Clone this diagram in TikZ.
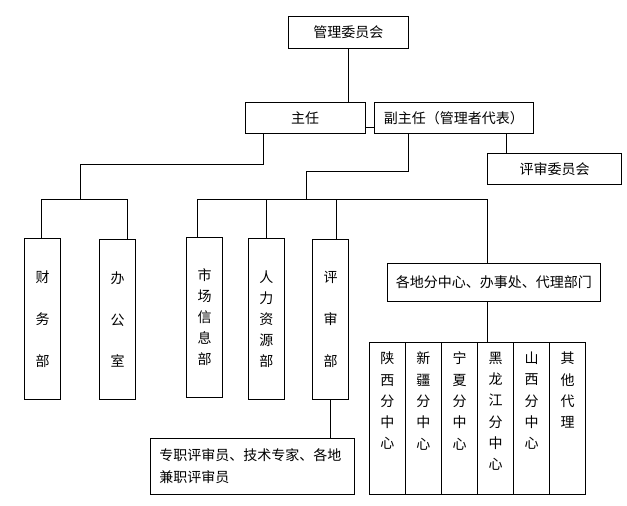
\documentclass[tikz,border=0pt]{standalone}
\usepackage{fontspec}
\setmainfont{Noto Sans CJK SC}
\begin{document}
\begin{tikzpicture}[x=1pt,y=-1pt,line width=1pt,
  box/.style={draw,inner sep=0pt,font=\fontsize{14}{21}\selectfont},
  vbox/.style={box,minimum width=36.4pt,minimum height=160.5pt,align=center},
  wide/.style={vbox,font=\fontsize{14}{41.7}\selectfont},
  colbox/.style={draw,inner sep=0pt,minimum width=36.07pt,minimum height=151.6pt},
  coltext/.style={inner sep=0pt,anchor=north,align=center,font=\fontsize{14}{21.3}\selectfont}]
\fill[white] (0,0) rectangle (627,506);
\useasboundingbox (0,0) rectangle (627,506);
% boxes
\node[box,minimum width=120pt,minimum height=32.3pt] (glwyh) at (348.3,32.2) {管理委员会};
\node[box,minimum width=120pt,minimum height=30.6pt] (zr) at (305,118) {主任};
\node[box,minimum width=159pt,minimum height=30.6pt] (fzr) at (453.8,118) {副主任（管理者代表）};
\node[box,minimum width=134.4pt,minimum height=31pt] (pswyh) at (554.5,168.8) {评审委员会};
\node[wide] (cwb) at (42.5,319.2) {财\\务\\部};
\node[wide] (bgs) at (117.5,319.5) {办\\公\\室};
\node[vbox] (scxxb) at (204.5,317.5) {市\\场\\信\\息\\部};
\node[vbox,minimum width=36pt] (rlzyb) at (266.3,318.8) {人\\力\\资\\源\\部};
\node[wide] (psb) at (330.5,319.5) {评\\审\\部};
\node[box,minimum width=213pt,minimum height=37.7pt] (gdfzx) at (493.8,282.2) {各地分中心、办事处、代理部门};
\node[box,minimum width=204.3pt,minimum height=56pt,text width=185.7pt,align=left,font=\fontsize{14}{22}\selectfont] (zzpsy) at (252.2,466.3) {专职评审员、技术专家、各地\\兼职评审员};
% columns
\node[colbox] (c1) at (387.3,418.5) {};
\node[colbox] (c2) at (423.4,418.5) {};
\node[colbox] (c3) at (459.5,418.5) {};
\node[colbox] (c4) at (495.5,418.5) {};
\node[colbox] (c5) at (531.6,418.5) {};
\node[colbox] (c6) at (567.7,418.5) {};
\node[coltext] (t1) at ([yshift=-9.3pt]c1.north) {陕\\西\\分\\中\\心};
\node[coltext] (t2) at ([yshift=-9.3pt]c2.north) {新\\疆\\分\\中\\心};
\node[coltext] (t3) at ([yshift=-9.3pt]c3.north) {宁\\夏\\分\\中\\心};
\node[coltext] (t4) at ([yshift=-9.3pt]c4.north) {黑\\龙\\江\\分\\中\\心};
\node[coltext] (t5) at ([yshift=-9.3pt]c5.north) {山\\西\\分\\中\\心};
\node[coltext] (t6) at ([yshift=-9.3pt]c6.north) {其\\他\\代\\理};
% connectors
\draw (glwyh.south) -- (glwyh.south |- zr.north);
\coordinate (m1) at (370,127.7);
\draw (zr.east |- m1) -- (fzr.west |- m1);
\coordinate (zrA) at (263.3,164.3);
\coordinate (zrB) at (80,164.3);
\coordinate (zrC) at (80,199);
\draw (zr.south -| zrA) -- (zrA) -- (zrB) -- (zrC);
\coordinate (cwbT) at (41.7,199);
\coordinate (bgsT) at (127.3,199);
\draw (cwb.north -| cwbT) -- (cwbT) -- (bgsT) -- (bgs.north -| bgsT);
\coordinate (fA) at (408.3,171.7);
\coordinate (fB) at (306.3,171.7);
\coordinate (fC) at (306.3,199.3);
\draw (fzr.south -| fA) -- (fA) -- (fB) -- (fC);
\coordinate (sT) at (197.3,199.3);
\coordinate (rT) at (266.3,199.3);
\coordinate (pT) at (336.3,199.3);
\coordinate (gT) at (487.7,199.3);
\draw (scxxb.north -| sT) -- (sT) -- (gT) -- (gdfzx.north -| gT);
\draw (rlzyb.north -| rT) -- (rT);
\draw (psb.north -| pT) -- (pT);
\coordinate (pwT) at (506,150);
\draw (fzr.south -| pwT) -- (pswyh.north -| pwT);
\draw (psb.south) -- (psb.south |- zzpsy.north);
\coordinate (gB) at (487.7,320);
\draw (gdfzx.south -| gB) -- (c1.north -| gB);
\end{tikzpicture}
\end{document}
